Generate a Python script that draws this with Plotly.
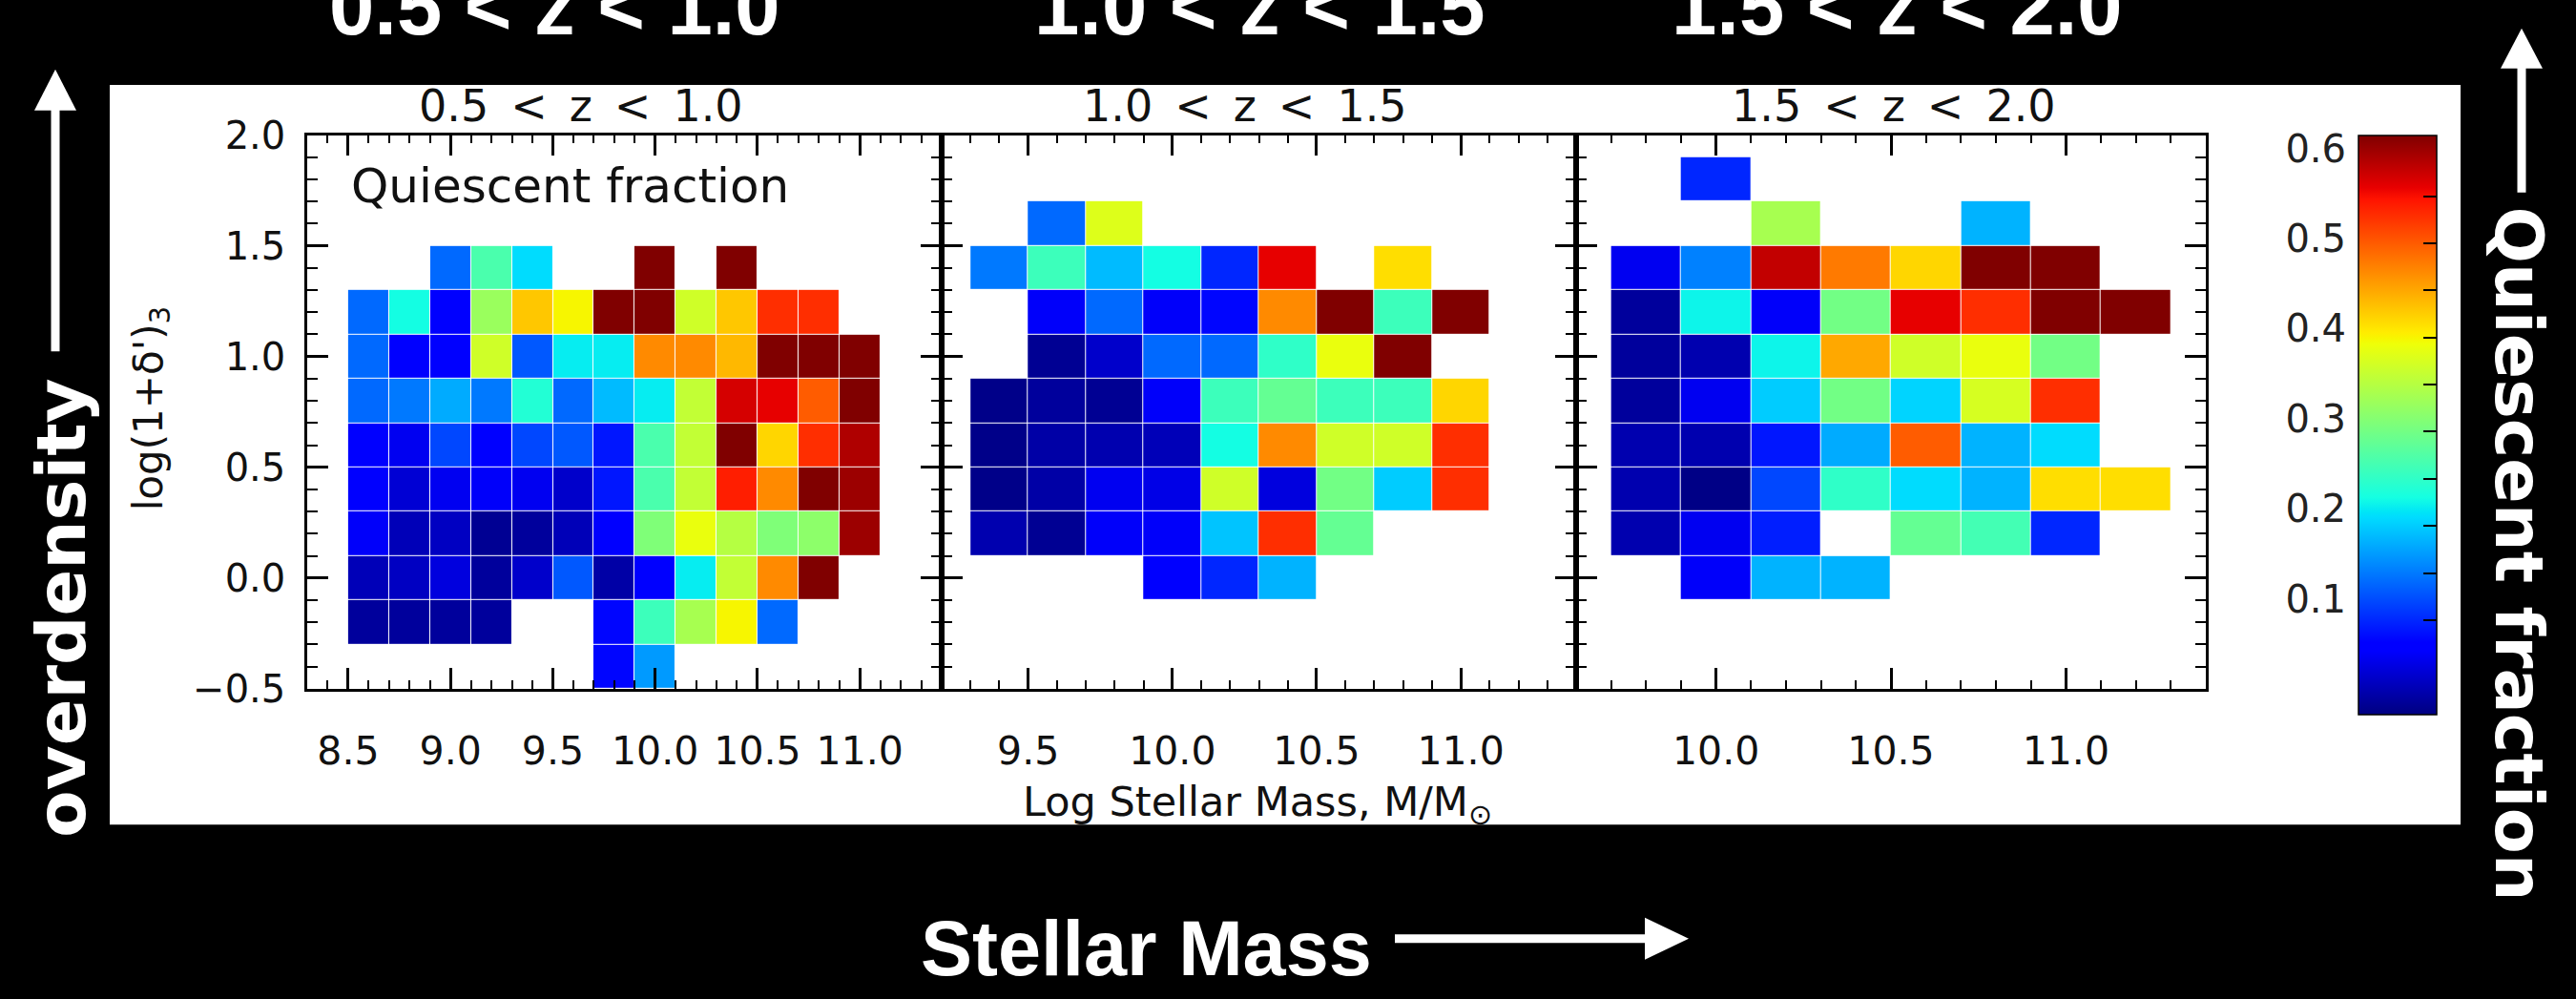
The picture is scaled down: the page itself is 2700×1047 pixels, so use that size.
import plotly.graph_objects as go

W, H = 2700, 1047
def X(px): return px / W
def Y(py): return 1 - py / H

N = None
# ---------------- data ----------------
overdensity_bins = [-0.4, -0.2, 0.0, 0.2, 0.4, 0.6, 0.8, 1.0, 1.2, 1.4, 1.6, 1.8]

mass_bins_z1 = [8.6, 8.8, 9.0, 9.2, 9.4, 9.6, 9.8, 10.0, 10.2, 10.4, 10.6, 10.8, 11.0]
qf_z1 = [
    [N, N, N, N, N, N, 0.08, 0.17, N, N, N, N, N],
    [0.015, 0.015, 0.015, 0.015, N, N, 0.08, 0.26, 0.34, 0.40, 0.14, N, N],
    [0.03, 0.035, 0.05, 0.015, 0.04, 0.13, 0.02, 0.07, 0.22, 0.36, 0.47, 0.62, N],
    [0.065, 0.03, 0.035, 0.01, 0.015, 0.03, 0.07, 0.31, 0.39, 0.35, 0.31, 0.32, 0.60],
    [0.07, 0.045, 0.06, 0.065, 0.06, 0.04, 0.09, 0.27, 0.36, 0.54, 0.47, 0.62, 0.60],
    [0.07, 0.06, 0.12, 0.07, 0.12, 0.13, 0.09, 0.27, 0.36, 0.62, 0.42, 0.53, 0.59],
    [0.14, 0.15, 0.18, 0.15, 0.24, 0.14, 0.19, 0.22, 0.36, 0.57, 0.56, 0.50, 0.62],
    [0.14, 0.07, 0.075, 0.37, 0.13, 0.22, 0.22, 0.47, 0.47, 0.44, 0.62, 0.62, 0.62],
    [0.14, 0.23, 0.075, 0.33, 0.43, 0.40, 0.62, 0.62, 0.37, 0.43, 0.53, 0.53, N],
    [N, N, 0.14, 0.27, 0.21, N, N, 0.62, N, 0.62, N, N, N],
    [N] * 13,
    [N] * 13,
]

mass_bins_z2 = [9.4, 9.6, 9.8, 10.0, 10.2, 10.4, 10.6, 10.8, 11.0]
qf_z2 = [
    [N] * 9,
    [N] * 9,
    [N, N, N, 0.07, 0.10, 0.185, N, N, N],
    [0.025, 0.01, 0.065, 0.065, 0.195, 0.53, 0.29, N, N],
    [0.005, 0.02, 0.06, 0.055, 0.37, 0.05, 0.30, 0.20, 0.53],
    [0.005, 0.02, 0.025, 0.03, 0.23, 0.47, 0.37, 0.37, 0.53],
    [0.005, 0.015, 0.01, 0.065, 0.26, 0.29, 0.26, 0.26, 0.42],
    [N, 0.01, 0.04, 0.14, 0.14, 0.25, 0.39, 0.62, N],
    [N, 0.065, 0.14, 0.065, 0.08, 0.47, 0.62, 0.26, 0.62],
    [0.15, 0.26, 0.19, 0.23, 0.10, 0.56, N, 0.415, N],
    [N, 0.14, 0.38, N, N, N, N, N, N],
    [N] * 9,
]

mass_bins_z3 = [9.8, 10.0, 10.2, 10.4, 10.6, 10.8, 11.0, 11.2]
qf_z3 = [
    [N] * 8,
    [N] * 8,
    [N, 0.065, 0.185, 0.185, N, N, N, N],
    [0.025, 0.06, 0.095, N, 0.29, 0.265, 0.10, N],
    [0.025, 0.003, 0.12, 0.25, 0.21, 0.185, 0.415, 0.415],
    [0.025, 0.025, 0.09, 0.18, 0.50, 0.185, 0.21, N],
    [0.015, 0.06, 0.20, 0.30, 0.205, 0.375, 0.53, N],
    [0.015, 0.025, 0.225, 0.45, 0.37, 0.39, 0.30, N],
    [0.015, 0.225, 0.065, 0.30, 0.56, 0.53, 0.62, 0.62],
    [0.06, 0.155, 0.58, 0.48, 0.42, 0.62, 0.62, N],
    [N, N, 0.34, N, N, 0.185, N, N],
    [N, 0.10, N, N, N, N, N, N],
]

panel_titles = ["0.5 < z < 1.0", "1.0 < z < 1.5", "1.5 < z < 2.0"]
x_ranges = [[8.3, 11.4], [9.2, 11.4], [9.6, 11.4]]
x_tickvals = [[8.5, 9.0, 9.5, 10.0, 10.5, 11.0], [9.5, 10.0, 10.5, 11.0], [10.0, 10.5, 11.0]]
y_tickvals = [-0.5, 0.0, 0.5, 1.0, 1.5, 2.0]
cbar_tickvals = [0.1, 0.2, 0.3, 0.4, 0.5, 0.6]
cbar_minor = [0.1, 0.15, 0.2, 0.25, 0.3, 0.35, 0.4, 0.45, 0.5, 0.55]

# ---------------- style ----------------
DEJA = "DejaVu Sans, Verdana, sans-serif"
LIB = "Liberation Sans, Arial, sans-serif"

def jet(t):
    def interp(pts):
        for (x0, y0), (x1, y1) in zip(pts[:-1], pts[1:]):
            if x0 <= t <= x1:
                return y0 if x1 == x0 else y0 + (y1 - y0) * (t - x0) / (x1 - x0)
        return pts[-1][1]
    r = interp([(0, 0), (0.35, 0), (0.66, 1), (0.89, 1), (1, 0.5)])
    g = interp([(0, 0), (0.125, 0), (0.375, 1), (0.64, 1), (0.91, 0), (1, 0)])
    b = interp([(0, 0.5), (0.11, 1), (0.34, 1), (0.65, 0), (1, 0)])
    return f"rgb({round(255*r)},{round(255*g)},{round(255*b)})"

stops = [0, 0.11, 0.125, 0.34, 0.35, 0.375, 0.64, 0.65, 0.66, 0.89, 0.91, 1]
jet_scale = [[s, jet(s)] for s in stops]

panel_px = [(322, 987), (987, 1652), (1652, 2312)]
y_top, y_bot = 124, 731

fig = go.Figure()
for i, (mb, qf) in enumerate([(mass_bins_z1, qf_z1), (mass_bins_z2, qf_z2), (mass_bins_z3, qf_z3)]):
    sfx = "" if i == 0 else str(i + 1)
    fig.add_trace(go.Heatmap(
        x=mb, y=overdensity_bins, z=qf, coloraxis="coloraxis",
        xaxis="x" + sfx, yaxis="y" + sfx, hoverongaps=False, xgap=1, ygap=1,
    ))

# empty trace so that the colour-key label axis is drawn
fig.add_trace(go.Scatter(x=[None], y=[None], xaxis="x4", yaxis="y4",
                         showlegend=False, hoverinfo="skip"))

axis_common = dict(
    showline=True, linecolor="black", linewidth=2.5, mirror="ticks",
    ticks="inside", ticklen=22, tickwidth=2.5, tickcolor="black",
    showgrid=False, zeroline=False,
)

layout = dict(
    width=W, height=H, margin=dict(l=0, r=0, t=0, b=0),
    paper_bgcolor="black", plot_bgcolor="white", showlegend=False,
    coloraxis=dict(
        colorscale=jet_scale, cmin=0, cmax=0.615,
        colorbar=dict(
            x=X(2472), xanchor="left", xpad=0, y=Y(y_top), yanchor="top", ypad=0,
            thicknessmode="pixels", thickness=82, lenmode="pixels", len=y_bot - y_top,
            outlinewidth=1.5, outlinecolor="black",
            tickmode="array", tickvals=cbar_minor, ticks="inside", ticklen=14,
            tickwidth=2, tickcolor="black", showticklabels=False,
        ),
    ),
)

for i in range(3):
    sfx = "" if i == 0 else str(i + 1)
    l, r = panel_px[i]
    layout["xaxis" + sfx] = dict(
        axis_common, domain=[X(l), X(r)], range=x_ranges[i], anchor="y" + sfx,
        tickmode="array", tickvals=x_tickvals[i], tickformat=".1f",
        ticklabelstandoff=27, tickfont=dict(family=DEJA, size=41, color="#111"),
        minor=dict(ticks="inside", ticklen=9, tickwidth=2, tickcolor="black",
                   dtick=0.1, tick0=0, showgrid=False),
    )
    layout["yaxis" + sfx] = dict(
        axis_common, domain=[Y(y_bot), Y(y_top)], range=[-0.5, 2.0], anchor="x" + sfx,
        tickmode="array", tickvals=y_tickvals, tickformat=".1f",
        showticklabels=(i == 0), ticklabelstandoff=12,
        tickfont=dict(family=DEJA, size=40, color="#111"),
        minor=dict(ticks="inside", ticklen=11, tickwidth=2, tickcolor="black",
                   dtick=0.1, tick0=0, showgrid=False),
    )

layout["xaxis4"] = dict(domain=[X(2462), X(2466)], range=[0, 1], visible=False, anchor="y4")
layout["yaxis4"] = dict(
    domain=[Y(y_bot), Y(y_top)], range=[0, 0.615], anchor="x4", side="left",
    showline=False, ticks="", showgrid=False, zeroline=False,
    tickmode="array", tickvals=cbar_tickvals, tickformat=".1f",
    tickfont=dict(family=DEJA, size=40, color="#222"), ticklabelstandoff=2,
)
fig.update_layout(**layout)

# ---------------- decorations ----------------
shapes = [
    dict(type="rect", xref="paper", yref="paper", x0=X(115), x1=X(2579), y0=Y(880), y1=Y(69),
         fillcolor="white", line=dict(width=0), layer="below"),
    # left arrow
    dict(type="line", xref="paper", yref="paper", x0=X(58), x1=X(58), y0=Y(361), y1=Y(92),
         line=dict(color="white", width=9)),
    dict(type="path", xref="paper", yref="paper",
         path=f"M {X(36)} {Y(97)} L {X(58)} {Y(52)} L {X(80)} {Y(97)} Z",
         fillcolor="white", line=dict(width=0)),
    # right arrow
    dict(type="line", xref="paper", yref="paper", x0=X(2643), x1=X(2643), y0=Y(187), y1=Y(46),
         line=dict(color="white", width=9)),
    dict(type="path", xref="paper", yref="paper",
         path=f"M {X(2621)} {Y(51)} L {X(2643)} {Y(7)} L {X(2665)} {Y(51)} Z",
         fillcolor="white", line=dict(width=0)),
    # bottom arrow
    dict(type="line", xref="paper", yref="paper", x0=X(1462), x1=X(1730), y0=Y(1005), y1=Y(1005),
         line=dict(color="white", width=9)),
    dict(type="path", xref="paper", yref="paper",
         path=f"M {X(1724)} {Y(982)} L {X(1770)} {Y(1005)} L {X(1724)} {Y(1028)} Z",
         fillcolor="white", line=dict(width=0)),
]
fig.update_layout(shapes=shapes)

ann = []
big_cx = [581, 1320, 1988]
inner_cx = [609, 1305, 1985]
for i, t in enumerate(panel_titles):
    ann.append(dict(xref="paper", yref="paper", x=X(big_cx[i]), y=Y(-17), xanchor="center",
                    yanchor="middle", showarrow=False, text=f"<b>{t}</b>",
                    font=dict(family=LIB, size=85, color="white")))
    ann.append(dict(xref="paper", yref="paper", x=X(inner_cx[i]), y=Y(92), xanchor="center",
                    yanchor="middle", showarrow=False, text=t.replace(" ", "\u2002"),
                    font=dict(family=DEJA, size=46, color="#111")))

ann += [
    dict(xref="paper", yref="paper", x=X(366), y=Y(180), xanchor="left", yanchor="middle",
         showarrow=False, text="Quiescent fraction", font=dict(family=DEJA, size=50, color="#111")),
    dict(xref="paper", yref="paper", x=X(158), y=Y(424), xanchor="center", yanchor="middle",
         showarrow=False, textangle=-90, text="log(1+δ')<sub>3</sub>",
         font=dict(family=DEJA, size=42, color="#111")),
    dict(xref="paper", yref="paper", x=X(1318), y=Y(858), xanchor="center", yanchor="middle",
         showarrow=False, text="Log Stellar Mass, M/M<sub>⊙</sub>",
         font=dict(family=DEJA, size=43, color="#111")),
    dict(xref="paper", yref="paper", x=X(64), y=Y(643), xanchor="center", yanchor="middle",
         showarrow=False, textangle=-90, text="<b>overdensity</b>",
         font=dict(family=DEJA, size=72, color="white")),
    dict(xref="paper", yref="paper", x=X(2640), y=Y(583), xanchor="center", yanchor="middle",
         showarrow=False, textangle=90, text="<b>Quiescent fraction</b>",
         font=dict(family=DEJA, size=70, color="white")),
    dict(xref="paper", yref="paper", x=X(1201), y=Y(1016), xanchor="center", yanchor="middle",
         showarrow=False, text="<b>Stellar Mass</b>",
         font=dict(family=LIB, size=81, color="white")),
]
fig.update_layout(annotations=ann)

fig.write_html("out.html")
